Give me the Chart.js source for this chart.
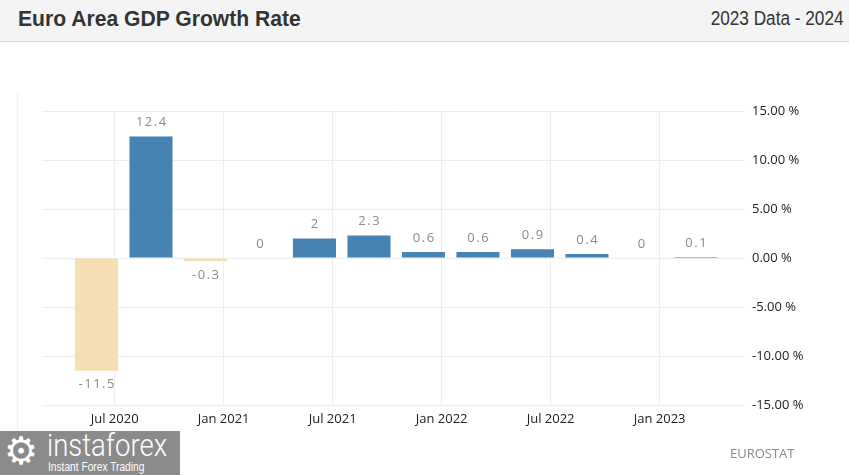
<!DOCTYPE html>
<html>
<head>
<meta charset="utf-8">
<script src="https://cdn.jsdelivr.net/npm/chart.js@4.4.0/dist/chart.umd.min.js"></script>
<style>
    body { margin: 0; width: 849px; height: 475px; position: relative; overflow: hidden; background: #fff; font-family: 'Open Sans', sans-serif; }
    .header { position: absolute; left: 0; top: 0; width: 849px; height: 41px; background: #f4f4f4; border-bottom: 1px solid #d8d8d8; }
    .title { position: absolute; left: 18px; top: 6px; font: bold 22px 'Liberation Sans', sans-serif; color: #333; transform: scaleX(0.96); transform-origin: left top; white-space: nowrap; }
    .period { position: absolute; right: 5px; top: 7px; font: 20px 'Liberation Sans', sans-serif; color: #333; transform: scaleX(0.86); transform-origin: right top; white-space: nowrap; }
    .frame { position: absolute; left: 17px; top: 92px; width: 1px; height: 383px; background: #f1f1f1; }
    .wrap { position: absolute; left: 0; top: 0; width: 849px; height: 475px; }
    .logo { position: absolute; left: 0; top: 431px; width: 180px; height: 44px; background: #8b8b8b; color: #fff; overflow: hidden; }
    .logo .gear { position: absolute; left: 4px; top: -2px; font: 38px 'DejaVu Sans', sans-serif; }
    .logo .brand { position: absolute; left: 47px; top: -5px; font: 300 32px 'Roboto', sans-serif; transform: scaleX(0.86); transform-origin: left top; }
    .logo .tag { position: absolute; left: 48px; top: 29px; font: 12px 'Liberation Sans', sans-serif; transform: scaleX(0.85); transform-origin: left top; white-space: nowrap; }
    .source { position: absolute; left: 730px; top: 444px; font-size: 13px; color: #888; }
</style>
</head>
<body>
<div class="header">
    <div class="title">Euro Area GDP Growth Rate</div>
    <div class="period">2023 Data - 2024</div>
</div>
<div class="frame"></div>
<div class="wrap"><canvas id="gdpChart" width="849" height="475"></canvas></div>
<div class="logo"><span class="gear">⚙</span><span class="brand">instaforex</span><span class="tag">Instant Forex Trading</span></div>
<div class="source">EUROSTAT</div>

<script>
// Quarterly GDP growth, % QoQ
const quarters = ['2020 Q2', '2020 Q3', '2020 Q4', '2021 Q1', '2021 Q2', '2021 Q3',
                  '2021 Q4', '2022 Q1', '2022 Q2', '2022 Q3', '2022 Q4', '2023 Q1'];
const growth = [-11.5, 12.4, -0.3, 0, 2, 2.3, 0.6, 0.6, 0.9, 0.4, 0, 0.1];
const xTickLabels = ['Jul 2020', 'Jan 2021', 'Jul 2021', 'Jan 2022', 'Jul 2022', 'Jan 2023'];
const yTicks = [-15, -10, -5, 0, 5, 10, 15];

const monthNames = ['Jan', 'Feb', 'Mar', 'Apr', 'May', 'Jun', 'Jul', 'Aug', 'Sep', 'Oct', 'Nov', 'Dec'];

// months counted from Jan 2020; a quarter sits on its last month
function quarterToMonth(q) {
    const [y, n] = q.split(' Q');
    return (Number(y) - 2020) * 12 + Number(n) * 3 - 1;
}
function labelToMonth(l) {
    const [m, y] = l.split(' ');
    return (Number(y) - 2020) * 12 + monthNames.indexOf(m);
}

const colors = {
    up: '#4682b4',
    down: '#f5deb3',
    grid: '#ededed',
    tick: '#222222',
    value: '#8a8a8a'
};

const valueLabels = {
    id: 'valueLabels',
    afterDatasetsDraw(chart) {
        const ctx = chart.ctx;
        const meta = chart.getDatasetMeta(0);
        ctx.save();
        ctx.font = '13px "Open Sans"';
        ctx.letterSpacing = '1.5px';
        ctx.fillStyle = colors.value;
        ctx.textAlign = 'center';
        ctx.textBaseline = 'middle';
        meta.data.forEach((bar, i) => {
            const v = growth[i];
            const y = v < 0 ? bar.y + 14 : bar.y - 14;
            ctx.fillText(String(v), bar.x + 0.75, y);
        });
        ctx.restore();
    }
};

new Chart(document.getElementById('gdpChart'), {
    type: 'bar',
    data: {
        labels: quarters,
        datasets: [{
            data: quarters.map((q, i) => ({ x: quarterToMonth(q), y: growth[i] })),
            backgroundColor: growth.map(v => v < 0 ? colors.down : colors.up),
            barPercentage: 1,
            categoryPercentage: 0.79
        }]
    },
    options: {
        responsive: false,
        animation: false,
        layout: { padding: { left: 42, top: 111, right: 0, bottom: 0 } },
        plugins: { legend: { display: false }, tooltip: { enabled: false } },
        scales: {
            x: {
                type: 'linear',
                offset: false,
                min: 2,
                max: 40.7,
                afterBuildTicks: (scale) => {
                    scale.ticks = xTickLabels.map(l => ({ value: labelToMonth(l) }));
                },
                afterFit: (scale) => { scale.height = 70; },
                grid: { color: colors.grid, drawTicks: false, offset: false },
                border: { display: false },
                ticks: {
                    autoSkip: false,
                    maxRotation: 0,
                    padding: 6,
                    color: colors.tick,
                    font: { family: 'Open Sans', size: 13 },
                    callback: (v) => xTickLabels[xTickLabels.findIndex(l => labelToMonth(l) === v)]
                }
            },
            y: {
                position: 'right',
                min: -15,
                max: 15,
                afterBuildTicks: (scale) => {
                    scale.ticks = yTicks.map(v => ({ value: v }));
                },
                afterFit: (scale) => { scale.width = 104; },
                grid: { color: colors.grid, drawTicks: false },
                border: { display: false },
                ticks: {
                    padding: 7,
                    color: colors.tick,
                    font: { family: 'Open Sans', size: 13 },
                    callback: (v) => v.toFixed(2) + ' %'
                }
            }
        }
    },
    plugins: [valueLabels]
});
</script>
</body>
</html>
